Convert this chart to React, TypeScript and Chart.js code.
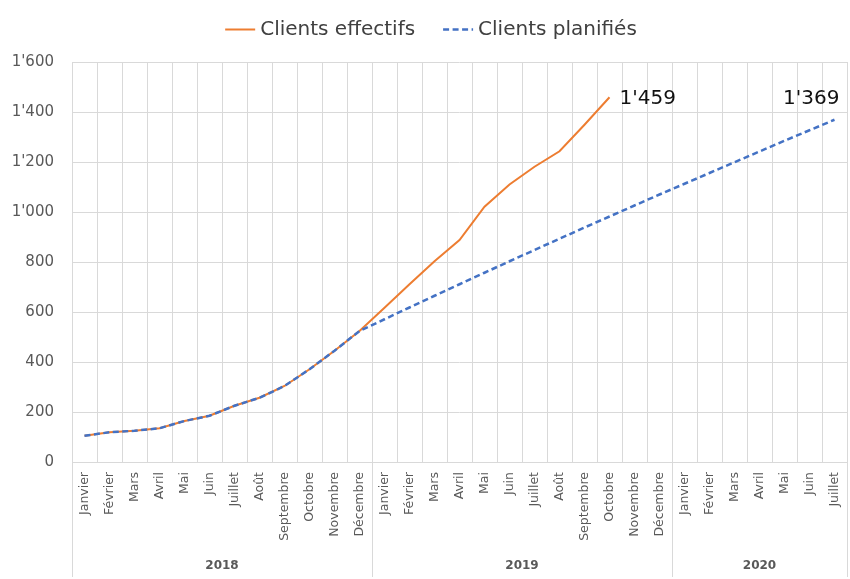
import React, { useEffect, useRef } from 'react';
import { Chart, registerables } from 'chart.js';

Chart.register(...registerables);

// ---- Data ----
const monthLabels = [
  'Janvier', 'Février', 'Mars', 'Avril', 'Mai', 'Juin', 'Juillet', 'Août', 'Septembre', 'Octobre', 'Novembre', 'Décembre',
  'Janvier', 'Février', 'Mars', 'Avril', 'Mai', 'Juin', 'Juillet', 'Août', 'Septembre', 'Octobre', 'Novembre', 'Décembre',
  'Janvier', 'Février', 'Mars', 'Avril', 'Mai', 'Juin', 'Juillet',
];
const yearLabels = ['2018', '2019', '2020'];
const monthsPerYear = [12, 12, 7];

const actualClients = [
  105, 119, 125, 135, 164, 185, 225, 257, 304, 371, 445, 524,
  617, 711, 803, 888, 1021, 1110, 1181, 1243, 1349, 1459,
];
const plannedClients = [
  105, 119, 125, 135, 164, 185, 225, 257, 304, 371, 445, 524,
  571, 618, 665, 711, 757, 803, 848, 893, 938, 982, 1026, 1070,
  1113, 1156, 1199, 1242, 1285, 1327, 1369,
];
const seriesNames = ['Clients effectifs', 'Clients planifiés'];
const yMin = 0;
const yMax = 1600;
const yStep = 200;

const FONT = '"DejaVu Sans", "Liberation Sans", Arial, sans-serif';
const GRID = '#d9d9d9';
const TEXT = '#595959';

function fmt(v: number): string {
  if (v >= 1000) {
    return `${Math.floor(v / 1000)}'${String(v % 1000).padStart(3, '0')}`;
  }
  return String(v);
}

const legendPlugin = {
  id: 'customLegend',
  afterDraw(chart: any) {
    const ctx = chart.ctx;
    const datasets = chart.data.datasets;
    ctx.save();
    ctx.font = `20px ${FONT}`;
    const lineLen = 30;
    const gap = 5;
    const itemGap = 28;
    const widths = datasets.map((d: any) => ctx.measureText(d.label).width);
    const total = widths.reduce((a: number, w: number) => a + lineLen + gap + w, 0) + itemGap * (datasets.length - 1);
    let x = 431 - total / 2;
    const y = 29.5;
    datasets.forEach((d: any, i: number) => {
      ctx.strokeStyle = d.borderColor;
      ctx.lineWidth = d.borderWidth;
      ctx.setLineDash(d.borderDash || []);
      ctx.beginPath();
      ctx.moveTo(x, y);
      ctx.lineTo(x + lineLen, y);
      ctx.stroke();
      ctx.setLineDash([]);
      ctx.fillStyle = '#404040';
      ctx.textAlign = 'left';
      ctx.textBaseline = 'middle';
      ctx.fillText(d.label, x + lineLen + gap, y);
      x += lineLen + gap + widths[i] + itemGap;
    });
    ctx.restore();
  },
};

const yearAxisPlugin = {
  id: 'yearAxis',
  afterDraw(chart: any) {
    const ctx = chart.ctx;
    const xs = chart.scales.x;
    const area = chart.chartArea;
    const step = xs.getPixelForValue(1) - xs.getPixelForValue(0);
    ctx.save();
    ctx.strokeStyle = GRID;
    ctx.lineWidth = 1;
    let idx = 0;
    const bottom = chart.height - 2;
    const drawSep = (px: number) => {
      const xx = Math.round(px) + 0.5;
      ctx.beginPath();
      ctx.moveTo(xx, area.bottom);
      ctx.lineTo(xx, bottom);
      ctx.stroke();
    };
    ctx.font = `bold 12px ${FONT}`;
    ctx.fillStyle = TEXT;
    ctx.textAlign = 'center';
    ctx.textBaseline = 'middle';
    yearLabels.forEach((lab, g) => {
      const n = monthsPerYear[g];
      const left = xs.getPixelForValue(idx) - step / 2;
      const right = xs.getPixelForValue(idx + n - 1) + step / 2;
      drawSep(left);
      if (g === yearLabels.length - 1) drawSep(right);
      ctx.fillText(lab, (left + right) / 2, chart.height - 13);
      idx += n;
    });
    ctx.restore();
  },
};

const endLabelPlacement = [
  { dx: 10, dy: 2, align: 'left', baseline: 'middle' },
  { dx: 5, dy: -16, align: 'right', baseline: 'alphabetic' },
];

const endLabelPlugin = {
  id: 'endLabels',
  afterDatasetsDraw(chart: any) {
    const ctx = chart.ctx;
    ctx.save();
    ctx.font = `20px ${FONT}`;
    ctx.fillStyle = '#111111';
    chart.data.datasets.forEach((ds: any, i: number) => {
      const data = ds.data;
      let last = data.length - 1;
      while (last >= 0 && data[last] == null) last--;
      if (last < 0) return;
      const pt = chart.getDatasetMeta(i).data[last];
      const p = endLabelPlacement[i];
      ctx.textAlign = p.align;
      ctx.textBaseline = p.baseline;
      ctx.fillText(fmt(data[last]), pt.x + p.dx, pt.y + p.dy);
    });
    ctx.restore();
  },
};

export default function App() {
  const canvasRef = useRef<HTMLCanvasElement | null>(null);

  useEffect(() => {
    if (!canvasRef.current) return;
    const chart = new Chart(canvasRef.current, {
      type: 'line',
      data: {
        labels: monthLabels,
        datasets: [
          {
            label: seriesNames[0],
            data: actualClients,
            borderColor: '#ED7D31',
            backgroundColor: '#ED7D31',
            borderWidth: 2,
            pointRadius: 0,
            tension: 0,
            fill: false,
            order: 1,
          },
          {
            label: seriesNames[1],
            data: plannedClients,
            borderColor: '#4472C4',
            backgroundColor: '#4472C4',
            borderWidth: 2.5,
            borderDash: [6, 3.5],
            pointRadius: 0,
            tension: 0,
            fill: false,
            order: 0,
          },
        ],
      },
      options: {
        responsive: false,
        animation: false,
        layout: { padding: { top: 62, right: 3, left: 0, bottom: 0 } },
        plugins: {
          legend: { display: false },
          tooltip: { enabled: false },
        },
        scales: {
          x: {
            offset: true,
            grid: { offset: true, color: GRID, drawTicks: false },
            border: { color: GRID },
            ticks: {
              autoSkip: false,
              minRotation: 90,
              maxRotation: 90,
              padding: 10,
              color: TEXT,
              font: { family: FONT, size: 12.5 },
            },
            afterFit: (s: any) => {
              s.height = 117;
              s.paddingLeft = 0;
              s.paddingRight = 0;
            },
          },
          y: {
            min: yMin,
            max: yMax,
            grid: { color: GRID, drawTicks: false },
            border: { display: false },
            ticks: {
              stepSize: yStep,
              padding: 18,
              color: TEXT,
              font: { family: FONT, size: 15 },
              callback: (v: any) => fmt(Number(v)),
            },
            afterFit: (s: any) => {
              s.width = 72;
              s.paddingTop = 0;
              s.paddingBottom = 0;
            },
          },
        },
      },
      plugins: [legendPlugin, yearAxisPlugin, endLabelPlugin],
    });
    return () => chart.destroy();
  }, []);

  return (
    <div style={{ position: 'absolute', left: 0, top: 0, width: 850, height: 579, background: '#ffffff' }}>
      <canvas ref={canvasRef} width={850} height={579} />
    </div>
  );
}
